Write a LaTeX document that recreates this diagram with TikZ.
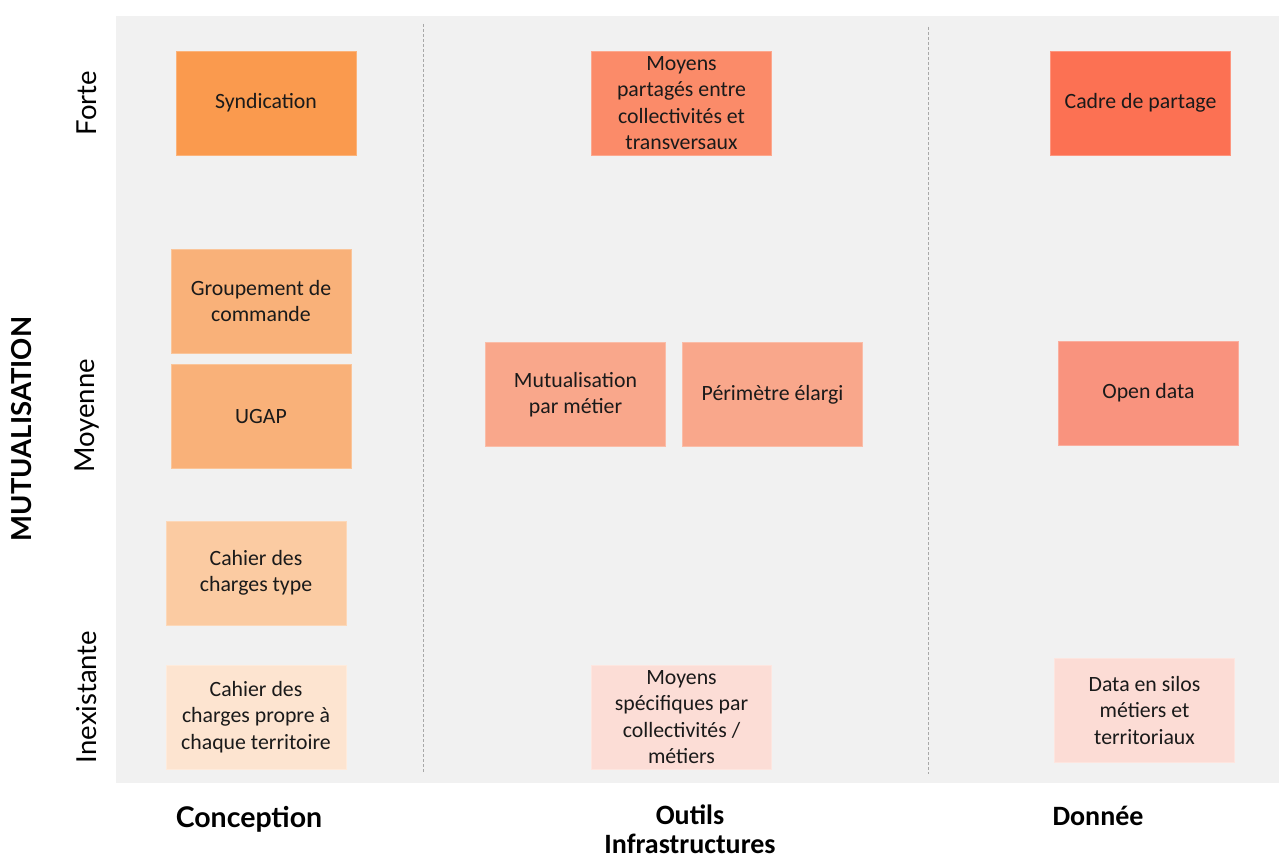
\documentclass[tikz,border=0pt]{standalone}
\usepackage{fontspec}
\setmainfont{Carlito}
\newfontfamily\labelfont{Lato}
\newfontfamily\boxfont{Carlito}
\definecolor{panel}{HTML}{F1F1F1}
\definecolor{sep}{HTML}{A8A8A8}
\definecolor{ink}{HTML}{1A1A1A}
\definecolor{cSynd}{HTML}{FA9A4E}
\definecolor{cGroup}{HTML}{F9B179}
\definecolor{cType}{HTML}{FBCBA2}
\definecolor{cPropre}{HTML}{FDE4D0}
\definecolor{cPart}{HTML}{FB8B69}
\definecolor{cMut}{HTML}{F9A78B}
\definecolor{cSpec}{HTML}{FCDDD6}
\definecolor{cCadre}{HTML}{FC7153}
\definecolor{cOpen}{HTML}{F9937E}
\definecolor{cSilos}{HTML}{FCDCD5}
\tikzset{
  cell/.style={rectangle, draw=#1!75!white, fill=#1, line width=0.8pt,
    minimum width=180pt, minimum height=104pt, inner sep=0pt,
    align=center, text=ink,
    font=\boxfont\fontsize{21.8}{26.2}\selectfont},
  level/.style={rotate=90, font=\labelfont\fontsize{27.5}{30}\selectfont, text=black},
  axis/.style={font=\labelfont\bfseries\fontsize{27.5}{30}\selectfont, text=black},
  family/.style={align=center, inner sep=0pt, font=\boxfont\bfseries\fontsize{28}{29}\selectfont, text=black},
  colsep/.style={draw=sep, line width=1pt, dash pattern=on 3pt off 2pt}
}
\begin{document}
\begin{tikzpicture}[x=1pt,y=-1pt]
\useasboundingbox (0,0) rectangle (1279,859);
% background panel
\fill[panel] (116,16) rectangle (1279,783);
% column separators
\coordinate (s1t) at (423,24);
\coordinate (s1b) at (423,772);
\coordinate (s2t) at (928,27);
\coordinate (s2b) at (928,774);
\draw[colsep] (s1t) -- (s1b);
\draw[colsep] (s2t) -- (s2b);

% vertical axis
\node[axis, rotate=90] (mut) at (22,429) {MUTUALISATION};
\node[level] (forte) at (87,103) {Forte};
\node[level] (moy) at (87,416) {Moyenne};
\node[level] (inex) at (87,697) {Inexistante};

% Conception column
\node[cell=cSynd] (synd) at (266,103) {Syndication};
\node[cell=cGroup] (grp) at (261,301) {Groupement de\\commande};
\node[cell=cGroup] (ugap) at (261,416.5) {UGAP};
\node[cell=cType] (ctype) at (256,573) {Cahier des\\charges type};
\node[cell=cPropre] (cprop) at (256,717) {Cahier des\\charges propre à\\chaque territoire};

% Outils / Infrastructures column
\node[cell=cPart] (part) at (681.5,103) {Moyens\\partagés entre\\collectivités et\\transversaux};
\node[cell=cMut] (mutm) at (575.5,394.5) {Mutualisation\\par métier};
\node[cell=cMut] (perim) at (772.5,394.5) {Périmètre élargi};
\node[cell=cSpec] (spec) at (681.5,717) {Moyens\\spécifiques par\\collectivités /\\métiers};

% Donnée column
\node[cell=cCadre] (cadre) at (1140.5,103) {Cadre de partage};
\node[cell=cOpen] (open) at (1148.5,393) {Open data};
\node[cell=cSilos] (silos) at (1144.5,710.5) {Data en silos\\métiers et\\territoriaux};

% column titles
\node[axis, font=\labelfont\bfseries\fontsize{28.5}{30}\selectfont] (conc) at (249,819) {Conception};
\node[family] (outils) at (690,829) {Outils\\Infrastructures};
\node[family] (donnee) at (1098,816) {Donnée};
\end{tikzpicture}
\end{document}
